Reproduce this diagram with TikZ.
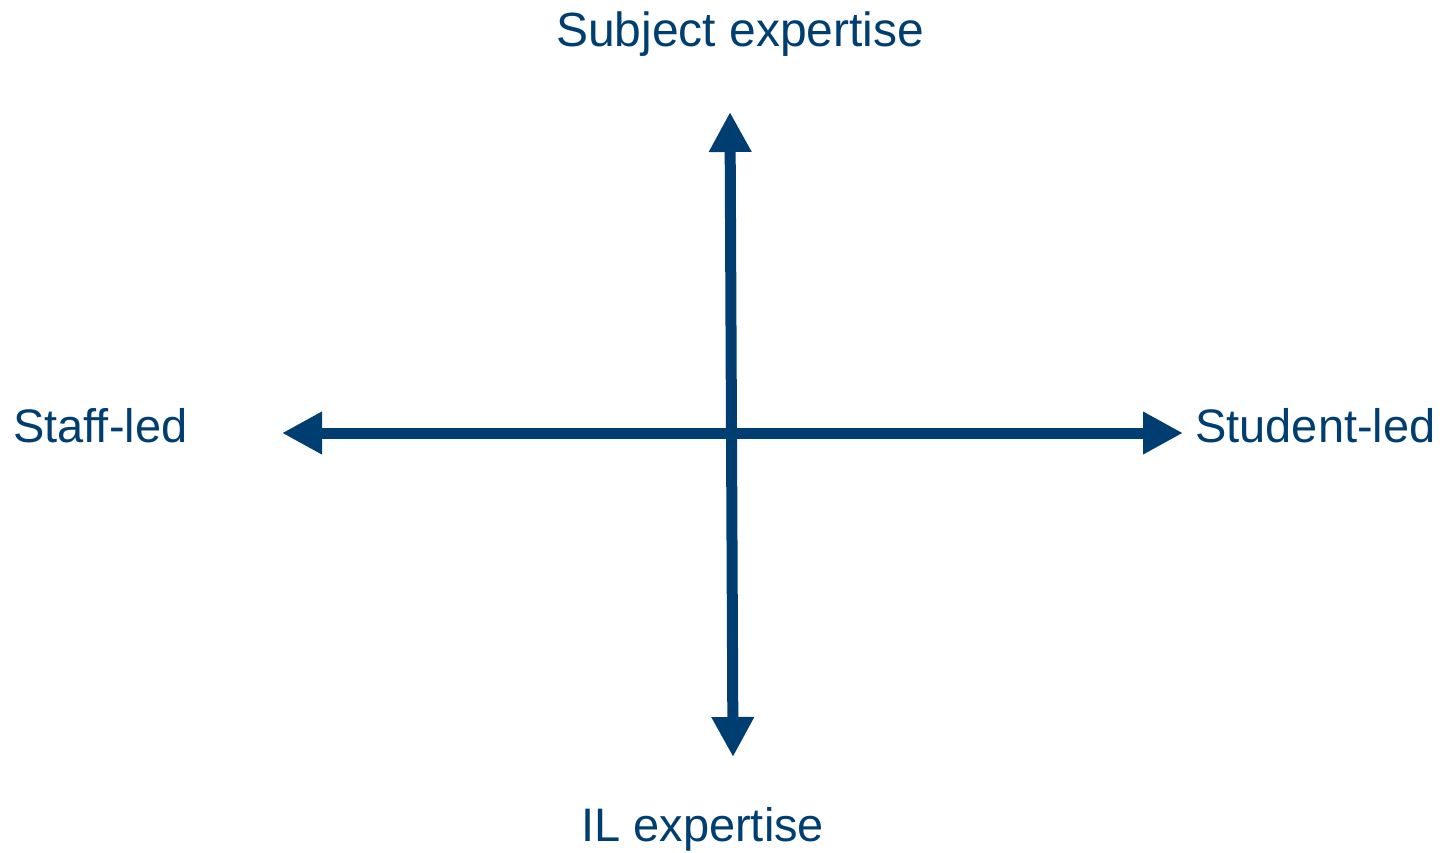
\documentclass[tikz,border=0pt]{standalone}
\usepackage{fontspec}
\setmainfont{Liberation Sans}
\usetikzlibrary{arrows.meta}
\definecolor{axisblue}{RGB}{0,62,114}
\begin{document}
\begin{tikzpicture}[x=1pt,y=-1pt,
  lbl/.style={inner sep=0pt,anchor=base west,text=axisblue,font=\fontsize{47pt}{50pt}\selectfont},
  axis/.style={draw=axisblue,line width=11pt,{Triangle[length=40pt,width=40pt]}-{Triangle[length=40pt,width=40pt]}}]
\useasboundingbox (0,0) rectangle (1444,852);
\node[lbl,font=\fontsize{48pt}{50pt}\selectfont] (top) at (556,46) {Subject expertise};
\node[lbl] (bottom) at (581,841) {IL expertise};
\node[lbl] (left) at (13,442) {Staff-led};
\node[lbl] (right) at (1195,442) {Student-led};
\coordinate (vtop) at (730,112);
\coordinate (vbot) at (733,757);
\coordinate (hleft) at (282,433);
\coordinate (hright) at (1183,433);
\draw[axis] (vbot) -- (vtop);
\draw[axis] (hleft) -- (hright);
\end{tikzpicture}
\end{document}
